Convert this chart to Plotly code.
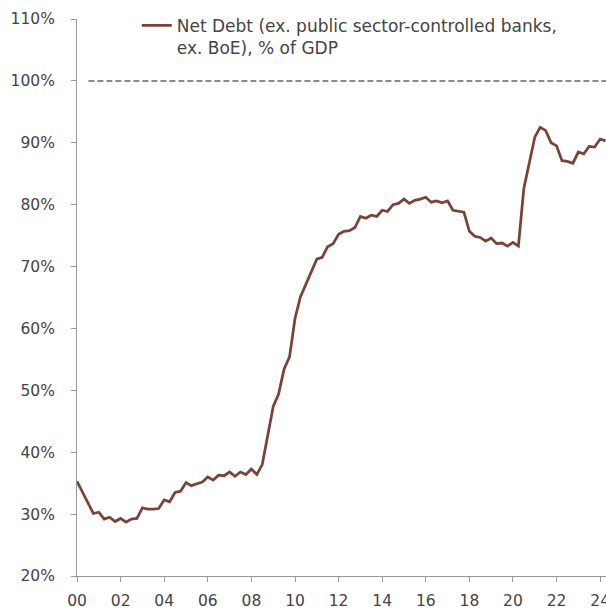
import pandas as pd
import plotly.graph_objects as go

# Quarterly net debt, % of GDP (2000 Q1 .. 2024 Q2)
quarters = pd.date_range("2000-01-01", periods=98, freq="QS").strftime("%Y-%m-%d").tolist()
net_debt = [
    35.3, 33.6, 31.8, 30.1, 30.3, 29.2, 29.5, 28.8, 29.3, 28.7,
    29.2, 29.3, 31.0, 30.8, 30.8, 30.9, 32.3, 32.0, 33.5, 33.7,
    35.1, 34.6, 34.9, 35.2, 36.0, 35.5, 36.3, 36.2, 36.8, 36.1,
    36.8, 36.4, 37.3, 36.4, 38.0, 42.8, 47.4, 49.4, 53.4, 55.4,
    61.6, 65.1, 67.1, 69.2, 71.2, 71.5, 73.2, 73.7, 75.2, 75.7,
    75.8, 76.3, 78.1, 77.8, 78.3, 78.1, 79.1, 78.9, 80.0, 80.2,
    80.9, 80.2, 80.7, 80.9, 81.2, 80.4, 80.6, 80.3, 80.6, 79.1,
    79.0, 78.8, 75.7, 74.9, 74.7, 74.1, 74.6, 73.7, 73.8, 73.3,
    73.9, 73.3, 82.6, 86.7, 90.9, 92.5, 92.0, 90.0, 89.5, 87.1,
    87.0, 86.7, 88.5, 88.2, 89.4, 89.3, 90.6, 90.3,
]
reference_x = ["2000-07-10", "2024-07-01"]
reference_y = [100, 100]

series_name = "Net Debt (ex. public sector-controlled banks,<br>ex. BoE), % of GDP"
y_ticks = list(range(20, 111, 10))
y_tick_labels = [f"{v}%" for v in y_ticks]

font_family = "DejaVu Sans"
text_color = "#444444"
axis_color = "#999999"

fig = go.Figure()
fig.add_trace(go.Scatter(
    x=reference_x, y=reference_y, mode="lines",
    line=dict(color="#8a8a8a", width=2, dash="6px,3px"),
    showlegend=False, hoverinfo="skip",
))
fig.add_trace(go.Scatter(
    x=quarters, y=net_debt, mode="lines", name=series_name,
    line=dict(color="#7B4239", width=2.75),
))

fig.update_layout(
    width=606, height=609,
    margin=dict(l=77, r=0, t=19, b=33),
    paper_bgcolor="white", plot_bgcolor="white",
    font=dict(family=font_family, size=15.5, color=text_color),
    showlegend=True,
    legend=dict(
        x=0.113, y=1.02, xanchor="left", yanchor="top",
        bgcolor="rgba(0,0,0,0)", valign="top",
        font=dict(family=font_family, size=17, color=text_color),
        itemwidth=30,
    ),
)
fig.update_xaxes(
    type="date", range=["2000-01-01", "2024-04-08"],
    dtick="M24", tick0="2000-01-01", tickformat="%y",
    showgrid=False, zeroline=False, automargin=False,
    showline=True, linecolor=axis_color, linewidth=1,
    ticks="outside", ticklen=5, tickcolor=axis_color,
    ticklabelstandoff=5, ticklabeloverflow="allow",
)
fig.update_yaxes(
    range=[20, 110], tickvals=y_ticks, ticktext=y_tick_labels,
    showgrid=False, zeroline=False, automargin=False,
    showline=True, linecolor=axis_color, linewidth=1,
    ticks="outside", ticklen=5, tickcolor=axis_color,
    ticklabelstandoff=13,
)

fig.write_html(
    "out.html",
    config={"displayModeBar": False},
    post_script=(
        "document.documentElement.style.overflow='hidden';"
        "document.body.style.margin='0';"
        "document.body.style.overflow='hidden';"
    ),
)
